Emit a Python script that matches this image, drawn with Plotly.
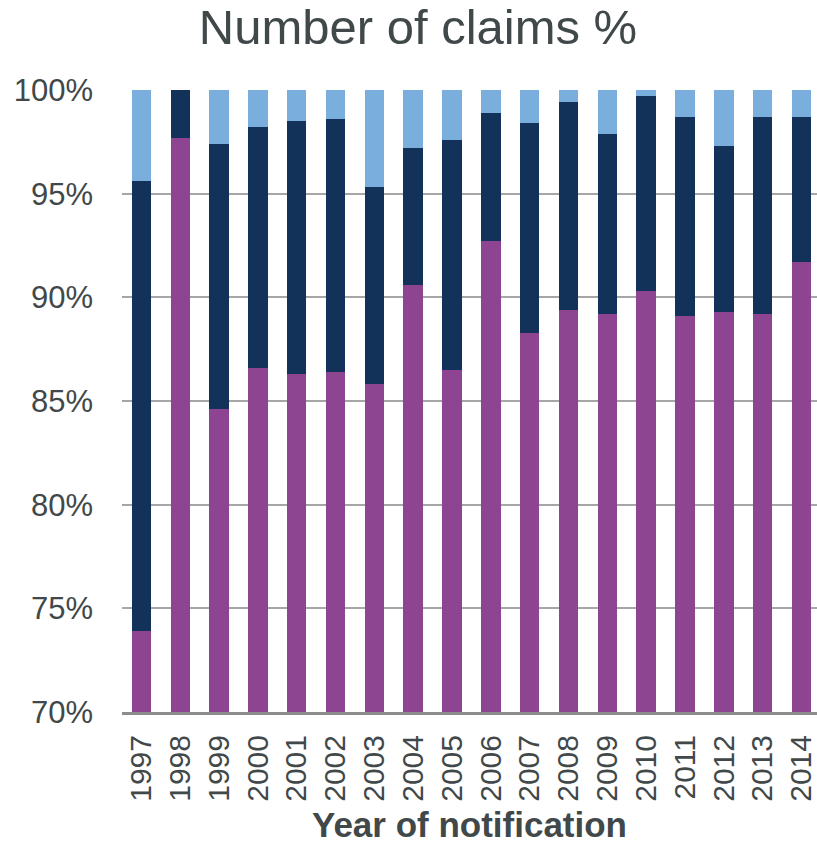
import plotly.graph_objects as go

years = [str(y) for y in range(1997, 2015)]
# cumulative tops (percent)
purple_pct = [73.9, 97.7, 84.6, 86.6, 86.3, 86.4, 85.8, 90.6, 86.5, 92.7, 88.3, 89.4, 89.2, 90.3, 89.1, 89.3, 89.2, 91.7]
dark_top = [95.6, 100.0, 97.4, 98.2, 98.5, 98.6, 95.3, 97.2, 97.6, 98.9, 98.4, 99.4, 97.9, 99.7, 98.7, 97.3, 98.7, 98.7]
dark_pct = [round(d - p, 2) for d, p in zip(dark_top, purple_pct)]
light_pct = [round(100 - d, 2) for d in dark_top]

PURPLE = "#8D4591"
NAVY = "#13325A"
LIGHT = "#7AAFDD"
TEXT = "#414849"

fig = go.Figure()
fig.add_trace(go.Bar(x=years, y=[p / 100 for p in purple_pct], marker_color=PURPLE, marker_line_width=0, name="A"))
fig.add_trace(go.Bar(x=years, y=[p / 100 for p in dark_pct], marker_color=NAVY, marker_line_width=0, name="B"))
fig.add_trace(go.Bar(x=years, y=[p / 100 for p in light_pct], marker_color=LIGHT, marker_line_width=0, name="C"))

fig.update_layout(
    barmode="stack",
    bargap=0.5,
    width=817,
    height=846,
    margin=dict(l=122, r=0, t=90, b=134, autoexpand=False),
    plot_bgcolor="white",
    paper_bgcolor="white",
    showlegend=False,
    font=dict(family="Liberation Sans, Arial, sans-serif", color=TEXT),
    title=dict(
        text="Number of claims %",
        x=418 / 817,
        xanchor="center",
        xref="container",
        yref="container",
        y=1 - 27 / 846,
        yanchor="middle",
        font=dict(size=49, color=TEXT),
    ),
)
fig.update_yaxes(
    range=[0.70, 1.0],
    tickformat=".0%",
    dtick=0.05,
    showgrid=True,
    gridcolor="#A6A6A6",
    gridwidth=1.5,
    zeroline=False,
    showline=False,
    ticks="",
    automargin=False,
    tickfont=dict(size=31, color=TEXT),
    ticklabelstandoff=28,
)
fig.update_xaxes(
    type="category",
    range=[-0.5, 17.4],
    tickangle=-90,
    tickfont=dict(size=30, color=TEXT),
    showline=True,
    linecolor="#8C8C8C",
    linewidth=3,
    ticks="",
    showgrid=False,
    automargin=False,
    ticklabelstandoff=8,
    title=dict(text="<b>Year of notification</b>", font=dict(size=35, color=TEXT), standoff=12),
)

fig.write_html(
    "out.html",
    config={"displayModeBar": False},
    post_script="document.body.style.margin='0';document.body.style.padding='0';",
)
